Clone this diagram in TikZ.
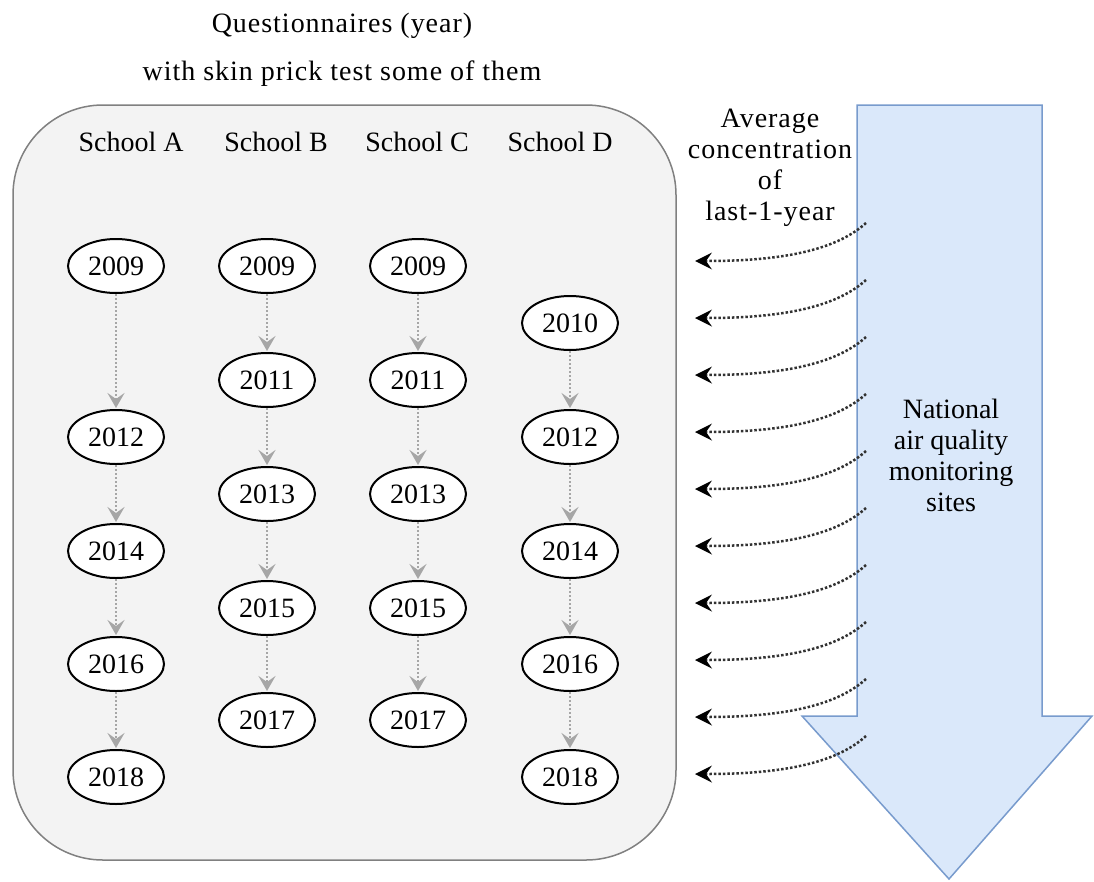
\documentclass[tikz,border=0pt]{standalone}
\usepackage{fontspec}
\setmainfont{Liberation Serif}
\newfontfamily\spacedfont{Liberation Serif}[LetterSpace=3.5]
\usetikzlibrary{arrows.meta,shapes.geometric}
\definecolor{boxfill}{RGB}{243,243,243}
\definecolor{boxdraw}{RGB}{128,128,128}
\definecolor{arrfill}{RGB}{218,232,250}
\definecolor{arrdraw}{RGB}{120,155,205}
\definecolor{grayarr}{RGB}{166,166,166}
\definecolor{darkdot}{RGB}{50,50,50}
\tikzset{
  lbl/.style={font=\fontsize{28}{31}\selectfont, inner sep=0pt, align=center},
  wlbl/.style={font=\spacedfont\fontsize{28}{31}\selectfont, inner sep=0pt, align=center},
  yr/.style={ellipse, draw=black, line width=2pt, fill=white, minimum width=96pt, minimum height=54pt, inner sep=0pt, font=\fontsize{28}{31}\selectfont},
  grayflow/.style={draw=grayarr, line width=2pt, dotted, -{Stealth[length=15pt,width=17pt,inset=6pt,fill=grayarr]}, shorten >=1pt},
  siteflow/.style={draw=darkdot, line width=2.5pt, dotted, -{Stealth[length=17pt,width=17pt,inset=6pt,fill=black,line width=0pt]}},
}
\begin{document}
\begin{tikzpicture}[x=1pt,y=-1pt]
\useasboundingbox (0,0) rectangle (1094,881);
% big arrow
\draw[fill=arrfill, draw=arrdraw, line width=1.5pt, line join=miter]
  (857,105) -- (1042,105) -- (1042,716) -- (1092,716) -- (949,879) -- (802,716) -- (857,716) -- cycle;
% rounded box
\draw[fill=boxfill, draw=boxdraw, line width=1.5pt, rounded corners=90pt] (13,105) rectangle (676,860);
% titles
\node[wlbl] (t1) at (342,26) {Questionnaires (year)};
\node[wlbl] (t2) at (342,74) {with skin prick test some of them};
% headers
\node[lbl] (hA) at (131,142) {School A};
\node[lbl] (hB) at (276,142) {School B};
\node[lbl] (hC) at (417,142) {School C};
\node[lbl] (hD) at (560,142) {School D};
% side labels
\node[wlbl] (avg) at (770,168) {Average\\concentration\\of\\last-1-year};
\node[lbl] (nat) at (951,455) {National\\air quality\\monitoring\\sites};
% School A
\node[yr] (A09) at (116,266) {2009};
\node[yr] (A12) at (116,437) {2012};
\node[yr] (A14) at (116,551) {2014};
\node[yr] (A16) at (116,664) {2016};
\node[yr] (A18) at (116,777) {2018};
% School B
\node[yr] (B09) at (267,266) {2009};
\node[yr] (B11) at (267,380) {2011};
\node[yr] (B13) at (267,494) {2013};
\node[yr] (B15) at (267,608) {2015};
\node[yr] (B17) at (267,720) {2017};
% School C
\node[yr] (C09) at (418,266) {2009};
\node[yr] (C11) at (418,380) {2011};
\node[yr] (C13) at (418,494) {2013};
\node[yr] (C15) at (418,608) {2015};
\node[yr] (C17) at (418,720) {2017};
% School D
\node[yr] (D10) at (570,323) {2010};
\node[yr] (D12) at (570,437) {2012};
\node[yr] (D14) at (570,551) {2014};
\node[yr] (D16) at (570,664) {2016};
\node[yr] (D18) at (570,777) {2018};
% vertical flows
\foreach \a/\b in {A09/A12,A12/A14,A14/A16,A16/A18,
                   B09/B11,B11/B13,B13/B15,B15/B17,
                   C09/C11,C11/C13,C13/C15,C15/C17,
                   D10/D12,D12/D14,D14/D16,D16/D18}
  \draw[grayflow] (\a.south) -- (\b.north);
% site arrows
\foreach \i in {0,...,9}{
  \pgfmathsetmacro{\ys}{223+57*\i}
  \pgfmathsetmacro{\ye}{261+57*\i}
  \coordinate (s\i) at (866,\ys);
  \coordinate (e\i) at (695,\ye);
  \draw[siteflow] (s\i) .. controls (835,\ys+28) and (780,\ye) .. (e\i);
}
\end{tikzpicture}
\end{document}
